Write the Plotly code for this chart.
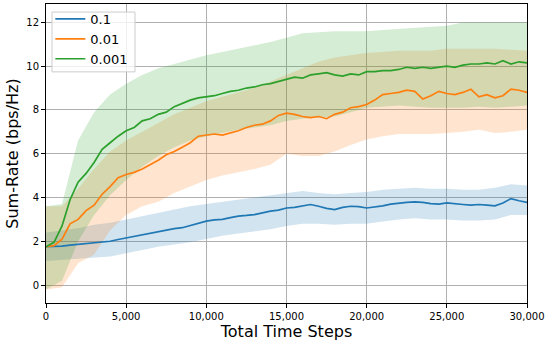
import plotly.graph_objects as go

# ---------------- data ----------------
x_mean = list(range(0, 30001, 500))
x_band = list(range(0, 30001, 1000))

labels = ["0.1", "0.01", "0.001"]

mean_01 = [1.75, 1.76, 1.78, 1.82, 1.86, 1.90, 1.93, 1.96, 2.00, 2.08,
           2.15, 2.22, 2.30, 2.38, 2.45, 2.50, 2.58, 2.62, 2.72, 2.85,
           2.92, 2.98, 3.00, 3.08, 3.15, 3.18, 3.22, 3.30, 3.38, 3.42,
           3.52, 3.55, 3.62, 3.68, 3.60, 3.50, 3.45, 3.55, 3.60, 3.58,
           3.52, 3.56, 3.62, 3.70, 3.75, 3.78, 3.80, 3.78, 3.72, 3.70,
           3.75, 3.70, 3.68, 3.65, 3.68, 3.65, 3.62, 3.75, 3.95, 3.85,
           3.78]

mean_001 = [1.75, 1.80, 2.10, 2.80, 3.00, 3.40, 3.65, 4.15, 4.50, 4.90,
            5.05, 5.15, 5.30, 5.50, 5.70, 5.95, 6.10, 6.30, 6.50, 6.80,
            6.85, 6.90, 6.85, 6.95, 7.05, 7.20, 7.30, 7.35, 7.50, 7.75,
            7.85, 7.80, 7.70, 7.65, 7.70, 7.60, 7.80, 7.90, 8.10, 8.15,
            8.25, 8.45, 8.70, 8.75, 8.80, 8.90, 8.85, 8.50, 8.65, 8.85,
            8.75, 8.70, 8.80, 8.95, 8.60, 8.70, 8.55, 8.65, 8.95, 8.90,
            8.80]

mean_0001 = [1.75, 1.95, 2.70, 3.90, 4.70, 5.10, 5.60, 6.20, 6.50, 6.80,
             7.05, 7.20, 7.50, 7.60, 7.80, 7.90, 8.15, 8.30, 8.45, 8.55,
             8.60, 8.65, 8.75, 8.85, 8.90, 9.00, 9.05, 9.15, 9.20, 9.30,
             9.40, 9.50, 9.45, 9.60, 9.65, 9.70, 9.60, 9.55, 9.65, 9.60,
             9.75, 9.75, 9.80, 9.80, 9.85, 9.95, 9.90, 9.95, 9.90, 9.95,
             10.00, 9.95, 10.05, 10.10, 10.10, 10.15, 10.10, 10.25, 10.10, 10.20,
             10.15]

lo_01 = [1.10, 1.15, 1.20, 1.25, 1.30, 1.45, 1.60, 1.75, 1.85, 1.95,
         2.10, 2.25, 2.35, 2.45, 2.55, 2.70, 2.80, 2.80, 2.75, 2.80,
         2.80, 2.90, 3.00, 3.05, 3.00, 3.00, 2.95, 2.95, 3.00, 3.20,
         3.20]
hi_01 = [2.40, 2.50, 2.60, 2.75, 2.85, 3.00, 3.15, 3.30, 3.45, 3.60,
         3.70, 3.80, 3.90, 4.00, 4.10, 4.20, 4.30, 4.20, 4.15, 4.20,
         4.25, 4.35, 4.40, 4.45, 4.40, 4.40, 4.35, 4.35, 4.45, 4.60,
         4.55]

lo_001 = [-0.20, -0.10, 1.00, 1.40, 2.50, 3.20, 3.60, 3.80, 4.20, 4.50,
          4.80, 5.00, 5.15, 5.30, 5.50, 6.00, 5.90, 5.90, 6.10, 6.40,
          6.65, 6.80, 6.90, 6.90, 6.90, 6.95, 7.00, 7.10, 6.95, 7.00,
          7.10]
hi_001 = [3.60, 3.60, 4.40, 5.30, 6.10, 6.60, 7.00, 7.40, 7.80, 8.10,
          8.40, 8.60, 8.80, 9.00, 9.30, 9.60, 9.90, 10.20, 10.40, 10.50,
          10.60, 10.65, 10.70, 10.70, 10.70, 10.80, 10.80, 10.80, 10.80, 10.75,
          10.70]

lo_0001 = [-0.20, 0.20, 2.00, 3.20, 4.10, 4.80, 5.40, 5.90, 6.30, 6.60,
           6.80, 6.95, 7.10, 7.20, 7.30, 7.50, 7.60, 7.65, 7.70, 7.90,
           8.10, 8.15, 8.20, 8.15, 8.10, 8.10, 8.10, 8.15, 8.10, 8.15,
           8.20]
hi_0001 = [3.60, 3.70, 6.60, 7.90, 8.70, 9.20, 9.60, 9.90, 10.10, 10.30,
           10.50, 10.65, 10.80, 10.95, 11.10, 11.30, 11.50, 11.55, 11.60, 11.60,
           11.60, 11.65, 11.70, 11.75, 11.80, 11.85, 12.00, 12.00, 12.00, 12.00,
           12.00]

x_ticks = [0, 5000, 10000, 15000, 20000, 25000, 30000]
y_ticks = [0, 2, 4, 6, 8, 10, 12]

colors = ["#1f77b4", "#ff7f0e", "#2ca02c"]
fills = ["rgba(31,119,180,0.2)", "rgba(255,127,14,0.2)", "rgba(44,160,44,0.2)"]

means = [mean_01, mean_001, mean_0001]
lows = [lo_01, lo_001, lo_0001]
highs = [hi_01, hi_001, hi_0001]

fig = go.Figure()
for lab, c, f, m, lo, hi in zip(labels, colors, fills, means, lows, highs):
    fig.add_trace(go.Scatter(x=x_band, y=hi, mode="lines", line=dict(width=0),
                             showlegend=False, hoverinfo="skip"))
    fig.add_trace(go.Scatter(x=x_band, y=lo, mode="lines", line=dict(width=0),
                             fill="tonexty", fillcolor=f, showlegend=False,
                             hoverinfo="skip"))
for lab, c, m in zip(labels, colors, means):
    fig.add_trace(go.Scatter(x=x_mean, y=m, mode="lines", name=lab,
                             line=dict(color=c, width=1.7)))

axis_common = dict(
    showline=True, linecolor="black", linewidth=1, mirror=True,
    ticks="outside", ticklen=4, tickcolor="black", tickwidth=1,
    showgrid=True, gridcolor="#b0b0b0", gridwidth=1, zeroline=False,
    automargin=False,
    tickfont=dict(family="DejaVu Sans", size=10, color="black"),
)

# legend frame (matplotlib-style box)
fig.add_shape(type="rect", xref="paper", yref="paper",
              x0=0.0125, x1=0.185, y0=0.773, y1=0.973,
              fillcolor="rgba(255,255,255,0.8)", line=dict(color="#cccccc", width=1),
              layer="above")

fig.update_layout(
    width=550, height=347,
    margin=dict(l=46, r=23, t=4, b=44),
    paper_bgcolor="white", plot_bgcolor="white",
    font=dict(family="DejaVu Sans", color="black"),
    xaxis=dict(range=[0, 30000], tickvals=x_ticks, tickformat=",",
               title=dict(text="Total Time Steps", font=dict(size=16), standoff=4),
               **axis_common),
    yaxis=dict(range=[-0.82, 12.84], tickvals=y_ticks,
               title=dict(text="Sum-Rate (bps/Hz)", font=dict(size=16), standoff=3),
               **axis_common),
    legend=dict(x=0.009, y=1.0, xanchor="left", yanchor="top",
                traceorder="normal",
                bgcolor="rgba(0,0,0,0)", borderwidth=0,
                font=dict(size=13, family="DejaVu Sans")),
    showlegend=True,
)

fig.write_html("out.html", config={"displayModeBar": False},
               post_script="document.body.style.margin='0px';")
